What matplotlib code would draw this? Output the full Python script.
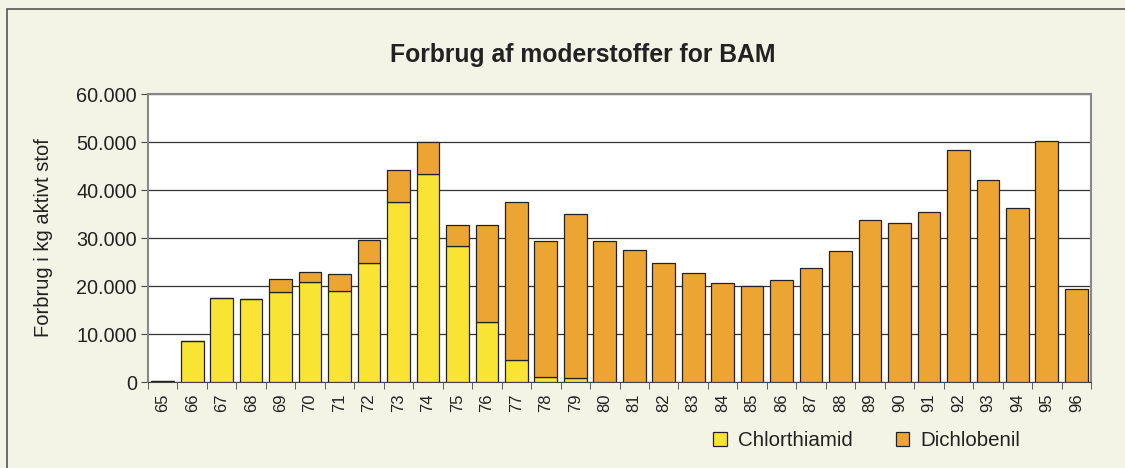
import numpy as np
import matplotlib.pyplot as plt
from matplotlib.patches import Rectangle

plt.rcParams['font.family'] = ['Liberation Sans', 'DejaVu Sans']

years = ['65', '66', '67', '68', '69', '70', '71', '72', '73', '74', '75', '76', '77', '78', '79', '80',
         '81', '82', '83', '84', '85', '86', '87', '88', '89', '90', '91', '92', '93', '94', '95', '96']
# kg aktivt stof
chlorthiamid = [300, 8500, 17500, 17200, 18750, 20850, 19050, 24800, 37500, 43250, 28300, 12450,
                4500, 1100, 800, 0, 0, 0, 0, 0, 0, 0, 0, 0, 0, 0, 0, 0, 0, 0, 0, 0]
total = [300, 8500, 17500, 17200, 21400, 23000, 22500, 29600, 44100, 50000, 32800, 32800,
         37500, 29300, 34900, 29300, 27500, 24850, 22750, 20700, 19900, 21200, 23800, 27200,
         33800, 33050, 35400, 48400, 42100, 36250, 50250, 19300]
dichlobenil = [t - c for t, c in zip(total, chlorthiamid)]

bg = '#f4f4e6'
yellow = '#f9e434'
orange = '#eca533'

fig = plt.figure(figsize=(11.25, 4.68), dpi=100, facecolor=bg)
# outer frame
fig.patches.append(Rectangle((7/1125, -0.01), 1.02, 1 - 9/468 + 0.01, transform=fig.transFigure,
                             fill=False, edgecolor='#555555', linewidth=1.2))

ax = fig.add_axes([148/1125, 86/468, 943/1125, 288/468])
ax.set_facecolor('white')
x = np.arange(len(years))
ax.bar(x, chlorthiamid, width=0.77, color=yellow, edgecolor='#222222', linewidth=0.9,
       label='Chlorthiamid', zorder=3)
ax.bar(x, dichlobenil, width=0.77, bottom=chlorthiamid, color=orange, edgecolor='#222222',
       linewidth=0.9, label='Dichlobenil', zorder=3)

ax.set_xlim(-0.5, len(years) - 0.5)
ax.set_ylim(0, 60000)
ax.set_yticks(range(0, 60001, 10000))
ax.set_yticklabels(['0', '10.000', '20.000', '30.000', '40.000', '50.000', '60.000'],
                   fontsize=14.3, color='#222222')
ax.set_xticks(x)
ax.set_xticklabels(years, rotation=90, fontsize=12, color='#222222')
ax.set_xticks(np.arange(-0.5, len(years)), minor=True)
ax.tick_params(axis='x', which='major', length=0, pad=8)
ax.tick_params(axis='x', which='minor', length=5, color='#444444')
ax.tick_params(axis='y', length=5, color='#444444', pad=3)
ax.grid(axis='y', color='#333333', linewidth=0.9, zorder=0)
for s in ['top', 'right', 'left']:
    ax.spines[s].set_color('#888888')
    ax.spines[s].set_linewidth(1.5)
ax.spines['bottom'].set_color('#444444')

ax.set_ylabel('Forbrug i kg aktivt stof', fontsize=14.5, labelpad=17, color='#222222')
fig.text(583/1125, 1 - 55/468, 'Forbrug af moderstoffer for BAM', ha='center', va='center',
         fontsize=17.8, fontweight='bold', color='#222222')

fig.legend(loc='center', bbox_to_anchor=(867/1125, 1 - 441/468), ncol=2, frameon=False,
           fontsize=14.8, handlelength=0.65, handleheight=0.65, columnspacing=2.1,
           handletextpad=0.55, labelcolor='#222222')

fig.savefig('out.png', dpi=100, facecolor=bg)
